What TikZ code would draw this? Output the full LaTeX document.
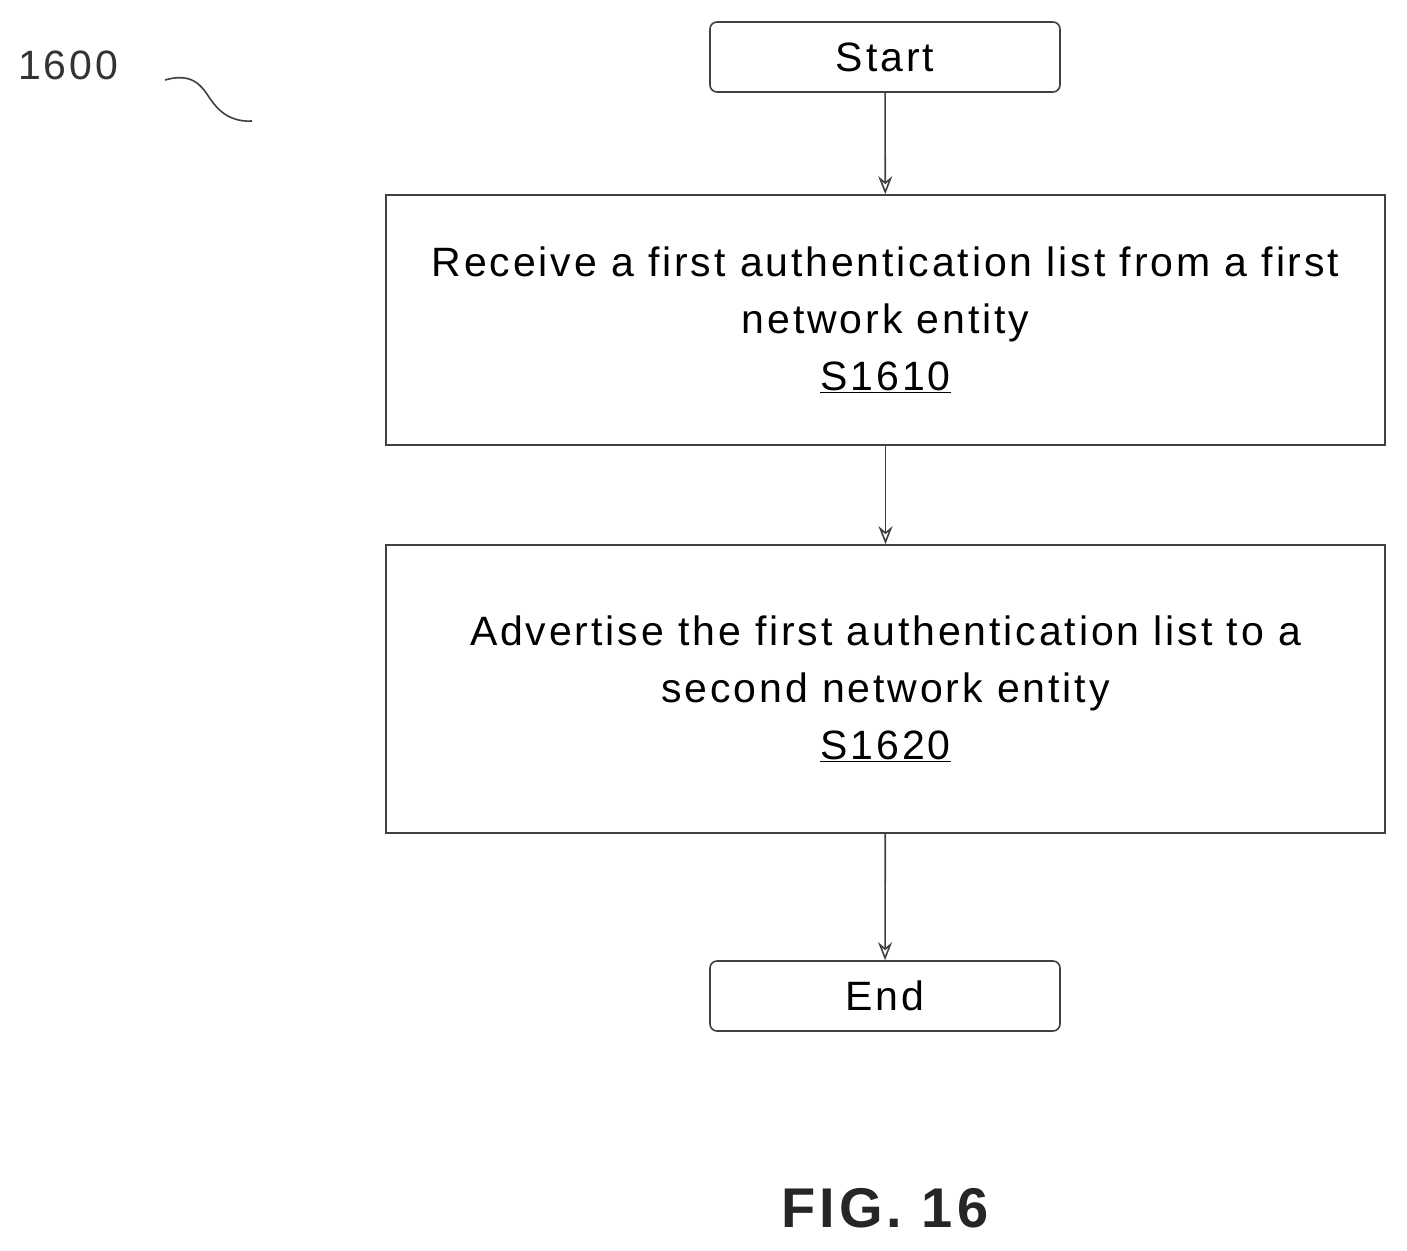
\documentclass[tikz,border=0pt]{standalone}
\usepackage{fontspec}
\setmainfont{Liberation Sans}[LetterSpace=7]
\usetikzlibrary{positioning, arrows.meta}

\tikzset{
  stepbox/.style={draw=black!75, line width=1.6pt, minimum width=999pt, minimum height=250pt,
    align=center, font=\fontsize{41}{57}\selectfont},
  term/.style={draw=black!75, line width=1.6pt, rounded corners=7pt, minimum width=350pt,
    minimum height=70pt, font=\fontsize{41}{48}\selectfont},
  flow/.style={draw=black!75, line width=1.6pt, -{Stealth[length=18pt,width=14pt,open]}}
}

\begin{document}
\begin{tikzpicture}[x=1pt,y=-1pt]
  \useasboundingbox (0,0) rectangle (1407,1250);

  % steps
  \node[term] (start) at (885,57) {Start};
  \node[stepbox] (s1610) at (885.5,320) {Receive a first authentication list from a first\\network entity\\\underline{S1610}};
  \node[stepbox, minimum height=288pt] (s1620) at (885.5,689) {Advertise the first authentication list to a\\second network entity\\\underline{S1620}};
  \node[term] (end) at (885,996) {End};

  % connectors
  \draw[flow] (start) -- (s1610);
  \draw[flow] (s1610) -- (s1620);
  \draw[flow] (s1620) -- (end);

  % label
  \node[font=\fontsize{41}{48}\selectfont, text=black!80] (ref) at (68,65) {1600};
  \draw[black!75, line width=1.6pt] (165,80) .. controls (200,70) and (205,95) .. (215,105)
    .. controls (225,118) and (240,122) .. (252,121);

  \node[font=\bfseries\fontsize{56}{60}\selectfont, text=black!85] (fig) at (885,1208) {FIG. 16};
\end{tikzpicture}
\end{document}
